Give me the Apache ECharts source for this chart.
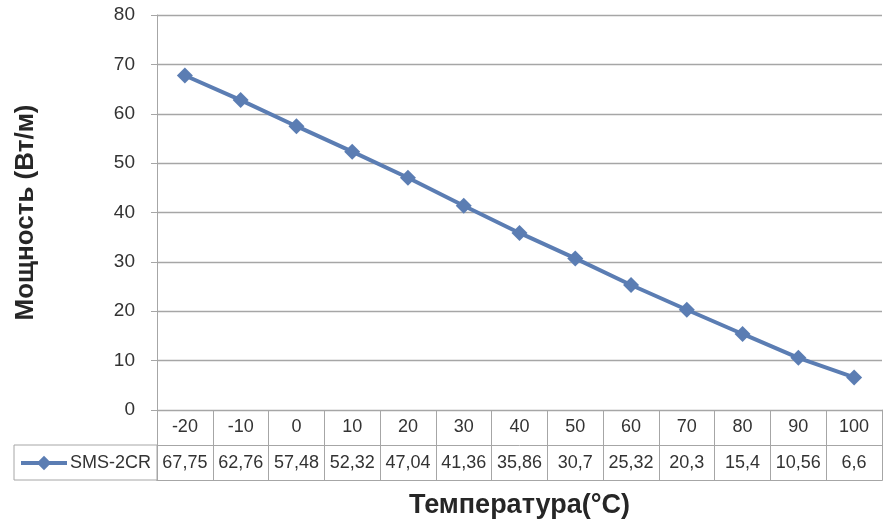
<!DOCTYPE html>
<html>
<head>
<meta charset="utf-8">
<script src="https://cdn.jsdelivr.net/npm/echarts@6/dist/echarts.min.js"></script>
<style>html,body{margin:0;padding:0;background:#fff;}#c{width:891px;height:530px;}</style>
</head>
<body>
<div id="c"></div>
<script>
const categories = ['-20','-10','0','10','20','30','40','50','60','70','80','90','100'];
const seriesName = 'SMS-2CR';
const values = [67.75, 62.76, 57.48, 52.32, 47.04, 41.36, 35.86, 30.7, 25.32, 20.3, 15.4, 10.56, 6.6];
const yTitle = 'Мощность (Вт/м)';
const xTitle = 'Температура(°C)';

const lineColor = '#5b7db3';
const gridColor = '#a6a6a6';
const txt = '#333333';
const font = 'Liberation Sans, Arial, sans-serif';

const chart = echarts.init(document.getElementById('c'), null, {renderer: 'canvas'});
chart.setOption({
  animation: false,
  backgroundColor: '#fff',
  textStyle: {fontFamily: font},
  grid: [
    {left: 157, right: 9, top: 15, bottom: 120},
    {left: 157, right: 9, top: 410, height: 70}
  ],
  legend: {
    left: 14, top: 449, itemWidth: 46, itemHeight: 18, itemGap: 4,
    data: [seriesName],
    lineStyle: {width: 4, color: lineColor},
    itemStyle: {color: lineColor},
    textStyle: {fontSize: 18, color: txt, fontFamily: font, padding: [0,0,0,-2]}
  },
  graphic: [
    {type: 'rect', shape: {x: 14, y: 445, width: 143, height: 35}, style: {fill: 'none', stroke: gridColor, lineWidth: 1}}
  ],
  xAxis: [
    {type: 'category', gridIndex: 0, data: categories, boundaryGap: true,
     axisLine: {show: true, lineStyle: {color: gridColor}}, axisTick: {show: false}, axisLabel: {show: false}},
    {type: 'category', gridIndex: 1, position: 'top', data: categories, boundaryGap: true,
     axisLine: {show: true, lineStyle: {color: gridColor}}, axisTick: {show: false},
     splitLine: {show: true, lineStyle: {color: gridColor}},
     axisLabel: {inside: true, margin: 8, fontSize: 18, color: txt, fontFamily: font, interval: 0}},
    {type: 'category', gridIndex: 1, position: 'bottom', data: values.map(v => String(v).replace('.', ',')), boundaryGap: true,
     axisLine: {show: true, lineStyle: {color: gridColor}}, axisTick: {show: false},
     axisLabel: {inside: true, margin: 8, fontSize: 18, color: txt, fontFamily: font, interval: 0},
     name: xTitle, nameLocation: 'middle', nameGap: 12,
     nameTextStyle: {fontSize: 27, fontWeight: 'bold', color: '#262626', fontFamily: font, verticalAlign: 'top'}}
  ],
  yAxis: [
    {type: 'value', gridIndex: 0, min: 0, max: 80, interval: 10,
     axisLine: {show: true, lineStyle: {color: gridColor}},
     axisTick: {show: true, length: 6, lineStyle: {color: gridColor}},
     splitLine: {show: true, lineStyle: {color: gridColor, width: 1.3}},
     axisLabel: {fontSize: 19, color: txt, margin: 22, fontFamily: font},
     name: yTitle, nameLocation: 'middle', nameGap: 118,
     nameTextStyle: {fontSize: 26, fontWeight: 'bold', color: '#262626', fontFamily: font}},
    {type: 'value', gridIndex: 1, min: 0, max: 2, interval: 1,
     axisLine: {show: true, lineStyle: {color: gridColor}}, axisTick: {show: false}, axisLabel: {show: false},
     splitLine: {show: true, lineStyle: {color: gridColor}}},
    {type: 'value', gridIndex: 1, position: 'right', min: 0, max: 2, interval: 1,
     axisLine: {show: true, lineStyle: {color: gridColor}}, axisTick: {show: false}, axisLabel: {show: false},
     splitLine: {show: false}}
  ],
  series: [
    {name: seriesName, type: 'line', xAxisIndex: 0, yAxisIndex: 0, data: values,
     symbol: 'diamond', symbolSize: 16,
     lineStyle: {color: lineColor, width: 4},
     itemStyle: {color: lineColor}}
  ]
});
</script>
</body>
</html>
